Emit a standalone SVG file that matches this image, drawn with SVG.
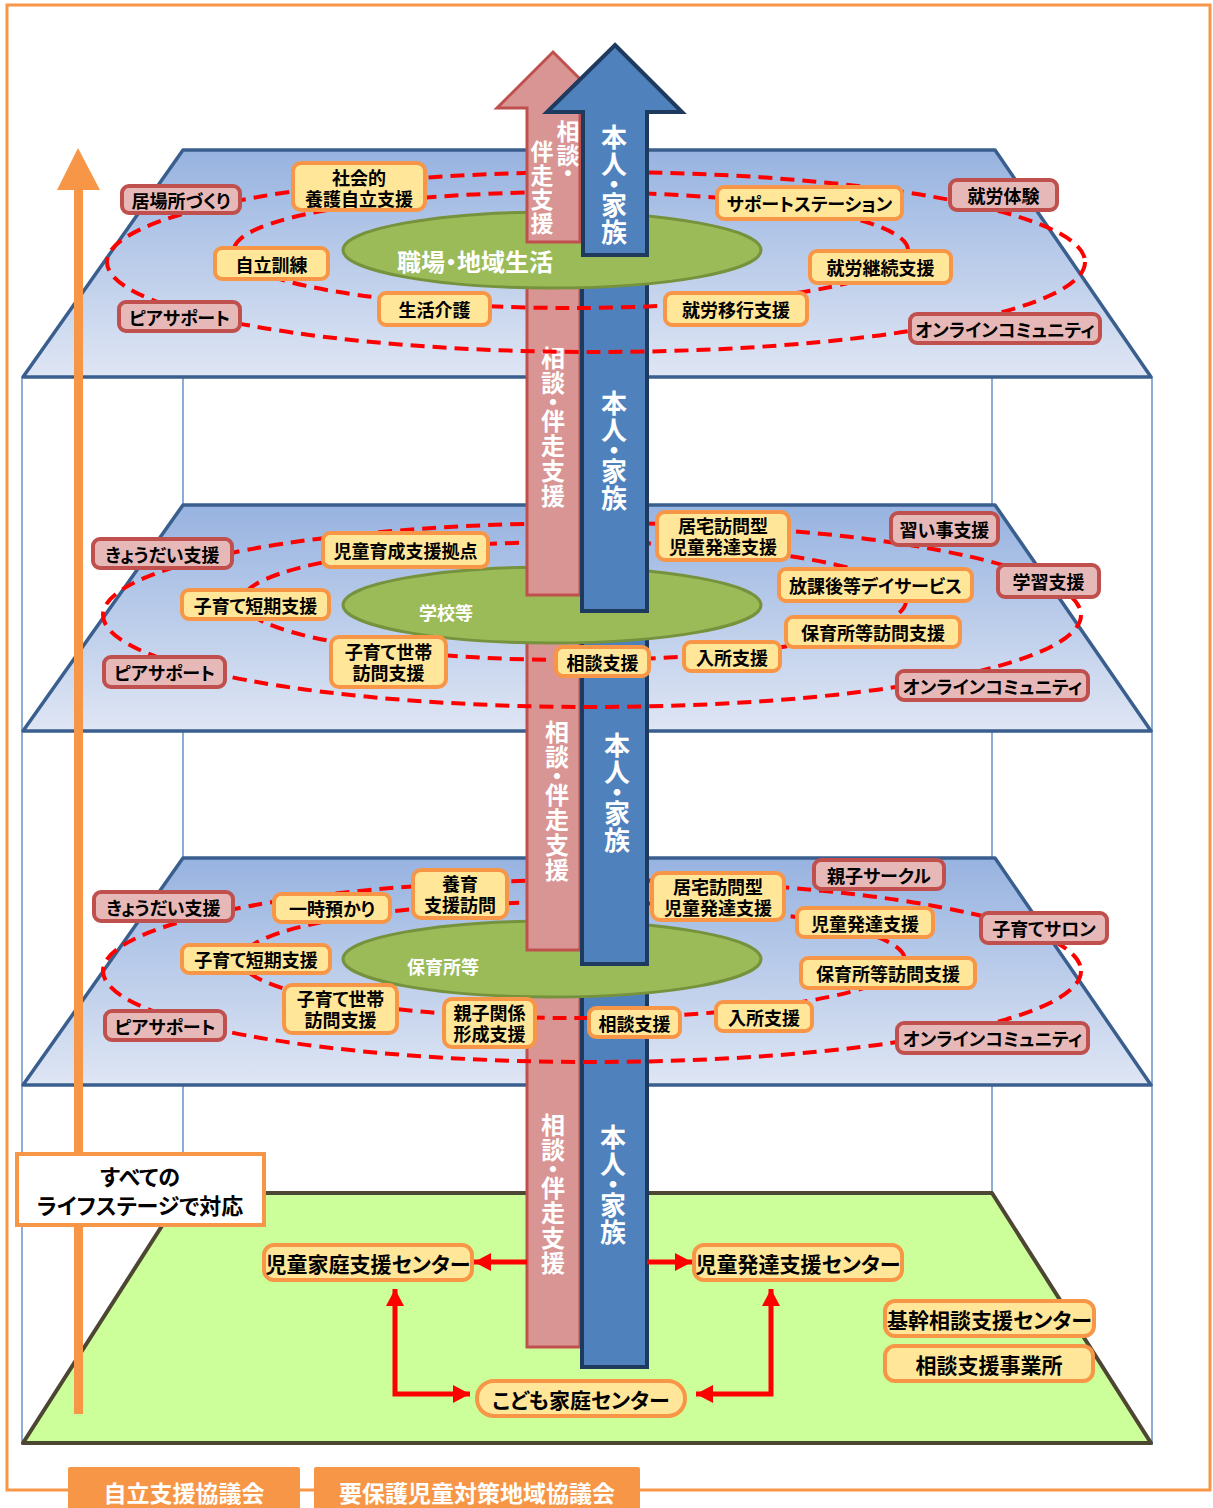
<svg xmlns="http://www.w3.org/2000/svg" width="1213" height="1508" viewBox="0 0 1213 1508">
<style>
text{font-family:"Noto Sans CJK JP","Noto Sans CJK SC",sans-serif;font-weight:bold;font-feature-settings:"palt" 1;dominant-baseline:central;text-anchor:middle}
.lbl{font-size:18px;fill:#000}
.big{font-size:21px;fill:#000}
.wt{fill:#fff}
.vt{fill:#fff;writing-mode:vertical-rl;text-anchor:start;font-feature-settings:"vpal" 1;letter-spacing:1px}
.yn{fill:#FFE699;stroke:#F79646;stroke-width:4}
.pn{fill:#E6B9B8;stroke:#C0504D;stroke-width:4}
.trap{fill:url(#lg);stroke:#3A5F8E;stroke-width:3.5;stroke-linejoin:round}
.vline{stroke:#4F81BD;stroke-width:1.3}
.dash{fill:none;stroke:#FF0000;stroke-width:4;stroke-dasharray:14 8}
.ell{fill:#9BBB59;stroke:#76923C;stroke-width:3}
.pk{fill:#D99594;stroke:#C0504D;stroke-width:3}
.bl{fill:#4F81BD;stroke:#1F3A5F;stroke-width:4}
.conn{fill:none;stroke:#FF0000;stroke-width:5}
</style>
<defs>
<linearGradient id="lg" x1="0" y1="0" x2="0" y2="1">
<stop offset="0" stop-color="#97B3E0"/>
<stop offset="1" stop-color="#DFE6F4"/>
</linearGradient>
<marker id="ah" markerUnits="userSpaceOnUse" markerWidth="18" markerHeight="20" refX="17" refY="10" orient="auto-start-reverse">
<path d="M0,1 L17,10 L0,19 z" fill="#FF0000"/>
</marker>
</defs>

<g id="frame">
<rect x="7" y="5" width="1203" height="1485" fill="#fff" stroke="#F79646" stroke-width="3"/>
</g>

<g id="box-lines">
<line class="vline" x1="22" y1="377" x2="22" y2="1445"/>
<line class="vline" x1="1152" y1="377" x2="1152" y2="1445"/>
<line class="vline" x1="183" y1="150" x2="183" y2="1193"/>
<line class="vline" x1="992" y1="150" x2="992" y2="1193"/>
</g>

<g id="layers">
<polygon id="layer-base" points="183,1193 992,1193 1151,1443 23,1443" fill="#CCFF99" stroke="#4D4633" stroke-width="4" stroke-linejoin="round"/>
<polygon id="layer-3" class="trap" points="183,858 995,858 1151,1085 23,1085"/>
<polygon id="layer-2" class="trap" points="183,505 995,505 1151,731 23,731"/>
<polygon id="layer-1" class="trap" points="183,150 995,150 1151,377 23,377"/>
</g>

<g id="seg4">
<rect class="pk" x="527" y="990" width="53" height="357"/>
<rect class="bl" x="582" y="990" width="65" height="377"/>
<text class="vt" x="553" y="1113" font-size="24">相談・伴走支援</text>
<text class="vt" x="613" y="1124" font-size="26">本人・家族</text>
</g>

<g id="ellipse-3">
<ellipse class="ell" cx="552" cy="959" rx="209" ry="38"/>
<text class="wt" x="443" y="966" font-size="18">保育所等</text>
</g>

<g id="rings-3">
<ellipse class="dash" cx="592" cy="971" rx="489" ry="91"/>
<ellipse class="dash" cx="573" cy="960" rx="332" ry="58"/>
</g>

<g id="seg3">
<rect class="pk" x="527" y="636" width="53" height="314"/>
<rect class="bl" x="582" y="636" width="65" height="328"/>
<text class="vt" x="557" y="720" font-size="24">相談・伴走支援</text>
<text class="vt" x="617" y="732" font-size="26">本人・家族</text>
</g>

<g id="ellipse-2">
<ellipse class="ell" cx="552" cy="605" rx="209" ry="38"/>
<text class="wt" x="446" y="612" font-size="18">学校等</text>
</g>

<g id="rings-2">
<ellipse class="dash" cx="592" cy="615" rx="489" ry="92"/>
<ellipse class="dash" cx="574" cy="601" rx="332" ry="59"/>
</g>

<g id="seg2">
<rect class="pk" x="527" y="282" width="53" height="313"/>
<rect class="bl" x="582" y="282" width="65" height="329"/>
<text class="vt" x="553" y="346" font-size="24">相談・伴走支援</text>
<text class="vt" x="614" y="390" font-size="26">本人・家族</text>
</g>

<g id="ellipse-1">
<ellipse class="ell" cx="552" cy="250" rx="209" ry="38"/>
</g>

<g id="rings-1">
<ellipse class="dash" cx="596" cy="262" rx="489" ry="90"/>
<ellipse class="dash" cx="571" cy="250" rx="337" ry="58"/>
</g>

<g id="top-arrows">
<polygon class="pk" points="553,52 609,108 580,108 580,242 527,242 527,108 497,108"/>
<polygon class="bl" points="615,45 682,112 647,112 647,255 583,255 583,112 547,112" stroke-linejoin="miter"/>
<text class="vt" x="568" y="120" font-size="23">相談・</text>
<text class="vt" x="542" y="140" font-size="23">伴走支援</text>
<text class="vt" x="614" y="124" font-size="26">本人・家族</text>
<text class="wt" x="475" y="260" font-size="24">職場・地域生活</text>
</g>

<g id="connectors">
<path class="conn" d="M527,1262 L474,1262" marker-end="url(#ah)"/>
<path class="conn" d="M647,1262 L692,1262" marker-end="url(#ah)"/>
<path class="conn" d="M395,1289 L395,1394 L470,1394" marker-start="url(#ah)" marker-end="url(#ah)"/>
<path class="conn" d="M771,1289 L771,1394 L696,1394" marker-start="url(#ah)" marker-end="url(#ah)"/>
</g>

<g id="lifestage-arrow">
<rect x="74" y="188" width="9" height="1226" fill="#F79646"/>
<polygon points="78,148 100,190 57,190" fill="#F79646"/>
</g>

<g id="lifestage-label">
<rect x="17" y="1154" width="247" height="71" fill="#fff" stroke="#F79646" stroke-width="4"/>
<text font-size="22"><tspan x="140" y="1175">すべての</tspan><tspan x="140" y="1204">ライフステージで対応</tspan></text>
</g>

<g id="councils">
<g id="council-1"><rect x="68" y="1467" width="232" height="45" rx="2" fill="#F79646"/><text class="wt" x="184" y="1492" font-size="23">自立支援協議会</text></g>
<g id="council-2"><rect x="314" y="1467" width="326" height="45" rx="2" fill="#F79646"/><text class="wt" x="477" y="1492" font-size="23">要保護児童対策地域協議会</text></g>
</g>

<g id="nodes-1">
<g id="n-ibasho"><rect class="pn" x="122" y="186" width="118" height="27" rx="7"/><text class="lbl" x="181" y="199.5">居場所づくり</text></g>
<g id="n-shakaiteki"><rect class="yn" x="293" y="163" width="132" height="47" rx="8"/><text class="lbl"><tspan x="359" y="176.5">社会的</tspan><tspan x="359" y="197.5">養護自立支援</tspan></text></g>
<g id="n-jiritsu"><rect class="yn" x="215" y="248" width="113" height="31" rx="7"/><text class="lbl" x="271.5" y="263.5">自立訓練</text></g>
<g id="n-peer1"><rect class="pn" x="119" y="302" width="121" height="29" rx="7"/><text class="lbl" x="179.5" y="316.5">ピアサポート</text></g>
<g id="n-seikatsu"><rect class="yn" x="379" y="293" width="111" height="32" rx="7"/><text class="lbl" x="434.5" y="309">生活介護</text></g>
<g id="n-support"><rect class="yn" x="717" y="187" width="185" height="32" rx="7"/><text class="lbl" x="809.5" y="203">サポートステーション</text></g>
<g id="n-shurotaiken"><rect class="pn" x="950" y="180" width="107" height="30" rx="7"/><text class="lbl" x="1003.5" y="195">就労体験</text></g>
<g id="n-keizoku"><rect class="yn" x="810" y="251" width="141" height="32" rx="7"/><text class="lbl" x="880.5" y="267">就労継続支援</text></g>
<g id="n-iko"><rect class="yn" x="665" y="293" width="142" height="32" rx="7"/><text class="lbl" x="736" y="309">就労移行支援</text></g>
<g id="n-online1"><rect class="pn" x="910" y="314" width="190" height="29" rx="7"/><text class="lbl" x="1005" y="328.5">オンラインコミュニティ</text></g>
</g>

<g id="nodes-2">
<g id="n-kyodai2"><rect class="pn" x="93" y="539" width="139" height="29" rx="7"/><text class="lbl" x="162.5" y="553.5">きょうだい支援</text></g>
<g id="n-ikusei"><rect class="yn" x="323" y="533" width="165" height="34" rx="7"/><text class="lbl" x="405.5" y="550">児童育成支援拠点</text></g>
<g id="n-tanki2"><rect class="yn" x="182" y="590" width="147" height="29" rx="7"/><text class="lbl" x="255.5" y="604.5">子育て短期支援</text></g>
<g id="n-peer2"><rect class="pn" x="104" y="657" width="121" height="30" rx="7"/><text class="lbl" x="164.5" y="672">ピアサポート</text></g>
<g id="n-setai2"><rect class="yn" x="331" y="637" width="115" height="50" rx="8"/><text class="lbl"><tspan x="388.5" y="651">子育て世帯</tspan><tspan x="388.5" y="672">訪問支援</tspan></text></g>
<g id="n-sodan2"><rect class="yn" x="556" y="647" width="93" height="29" rx="7"/><text class="lbl" x="602.5" y="661.5">相談支援</text></g>
<g id="n-kyotaku2"><rect class="yn" x="657" y="512" width="132" height="48" rx="8"/><text class="lbl"><tspan x="723" y="525">居宅訪問型</tspan><tspan x="723" y="546">児童発達支援</tspan></text></g>
<g id="n-naraigoto"><rect class="pn" x="891" y="513" width="107" height="32" rx="7"/><text class="lbl" x="944.5" y="529">習い事支援</text></g>
<g id="n-gakushu"><rect class="pn" x="998" y="565" width="101" height="32" rx="7"/><text class="lbl" x="1048.5" y="581">学習支援</text></g>
<g id="n-hokago"><rect class="yn" x="779" y="569" width="193" height="32" rx="7"/><text class="lbl" x="875.5" y="585">放課後等デイサービス</text></g>
<g id="n-hoikuho2"><rect class="yn" x="786" y="617" width="174" height="30" rx="7"/><text class="lbl" x="873" y="632">保育所等訪問支援</text></g>
<g id="n-nyusho2"><rect class="yn" x="684" y="642" width="96" height="29" rx="7"/><text class="lbl" x="732" y="656.5">入所支援</text></g>
<g id="n-online2"><rect class="pn" x="897" y="671" width="191" height="29" rx="7"/><text class="lbl" x="992.5" y="685.5">オンラインコミュニティ</text></g>
</g>

<g id="nodes-3">
<g id="n-kyodai3"><rect class="pn" x="94" y="892" width="139" height="29" rx="7"/><text class="lbl" x="163.5" y="906.5">きょうだい支援</text></g>
<g id="n-ichiji"><rect class="yn" x="274" y="894" width="116" height="28" rx="7"/><text class="lbl" x="332" y="908">一時預かり</text></g>
<g id="n-yoiku"><rect class="yn" x="413" y="870" width="94" height="48" rx="8"/><text class="lbl"><tspan x="460" y="883">養育</tspan><tspan x="460" y="904">支援訪問</tspan></text></g>
<g id="n-tanki3"><rect class="yn" x="182" y="945" width="148" height="28" rx="7"/><text class="lbl" x="256" y="959">子育て短期支援</text></g>
<g id="n-setai3"><rect class="yn" x="284" y="985" width="113" height="48" rx="8"/><text class="lbl"><tspan x="340.5" y="998">子育て世帯</tspan><tspan x="340.5" y="1019">訪問支援</tspan></text></g>
<g id="n-oyako"><rect class="yn" x="444" y="999" width="91" height="48" rx="8"/><text class="lbl"><tspan x="489.5" y="1012">親子関係</tspan><tspan x="489.5" y="1033">形成支援</tspan></text></g>
<g id="n-peer3"><rect class="pn" x="105" y="1011" width="120" height="29" rx="7"/><text class="lbl" x="165" y="1025.5">ピアサポート</text></g>
<g id="n-sodan3"><rect class="yn" x="589" y="1008" width="91" height="29" rx="7"/><text class="lbl" x="634.5" y="1022.5">相談支援</text></g>
<g id="n-kyotaku3"><rect class="yn" x="652" y="873" width="132" height="47" rx="8"/><text class="lbl"><tspan x="718" y="886">居宅訪問型</tspan><tspan x="718" y="907">児童発達支援</tspan></text></g>
<g id="n-circle"><rect class="pn" x="814" y="860" width="130" height="29" rx="7"/><text class="lbl" x="879" y="874.5">親子サークル</text></g>
<g id="n-salon"><rect class="pn" x="981" y="913" width="126" height="30" rx="7"/><text class="lbl" x="1044" y="928">子育てサロン</text></g>
<g id="n-jihatsu"><rect class="yn" x="797" y="908" width="136" height="29" rx="7"/><text class="lbl" x="865" y="922.5">児童発達支援</text></g>
<g id="n-hoikuho3"><rect class="yn" x="801" y="958" width="174" height="30" rx="7"/><text class="lbl" x="888" y="973">保育所等訪問支援</text></g>
<g id="n-nyusho3"><rect class="yn" x="716" y="1002" width="96" height="29" rx="7"/><text class="lbl" x="764" y="1016.5">入所支援</text></g>
<g id="n-online3"><rect class="pn" x="897" y="1023" width="191" height="30" rx="7"/><text class="lbl" x="992.5" y="1038">オンラインコミュニティ</text></g>
</g>

<g id="nodes-base">
<g id="n-jidokatei"><rect class="yn" x="264" y="1245" width="208" height="35" rx="10"/><text class="big" x="368" y="1262.5">児童家庭支援センター</text></g>
<g id="n-jihatsucenter"><rect class="yn" x="694" y="1245" width="208" height="35" rx="10"/><text class="big" x="798" y="1262.5">児童発達支援センター</text></g>
<g id="n-kodomo"><rect class="yn" x="477" y="1381" width="208" height="35" rx="17"/><text class="big" x="581" y="1398.5">こども家庭センター</text></g>
<g id="n-kikan"><rect class="yn" x="885" y="1301" width="209" height="35" rx="10"/><text class="big" x="989.5" y="1318.5">基幹相談支援センター</text></g>
<g id="n-jigyosho"><rect class="yn" x="885" y="1346" width="208" height="35" rx="10"/><text class="big" x="989" y="1363.5">相談支援事業所</text></g>
</g>
</svg>
